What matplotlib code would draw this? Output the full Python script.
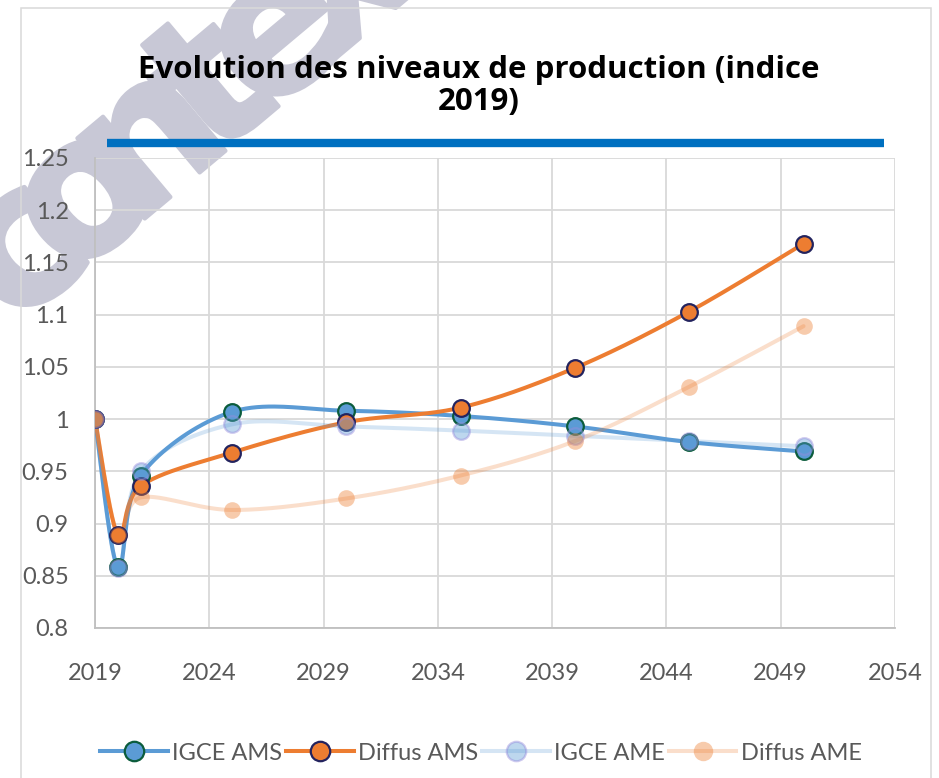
import numpy as np
import matplotlib
matplotlib.use('Agg')
import matplotlib.pyplot as plt
import matplotlib.patheffects as pe
from matplotlib.lines import Line2D
from matplotlib.patches import Rectangle
from matplotlib.ticker import FixedLocator, MultipleLocator, FuncFormatter

plt.rcParams['font.family'] = ['Lato', 'DejaVu Sans']

years = [2019, 2020, 2021, 2025, 2030, 2035, 2040, 2045, 2050]
igce_ams = [1.000, 0.858, 0.946, 1.007, 1.008, 1.003, 0.993, 0.978, 0.969]
diffus_ams = [1.000, 0.889, 0.936, 0.968, 0.997, 1.011, 1.049, 1.103, 1.168]
igce_ame = [1.000, 0.857, 0.950, 0.995, 0.993, 0.989, 0.984, 0.979, 0.974]
diffus_ame = [1.000, 0.889, 0.925, 0.913, 0.924, 0.946, 0.979, 1.031, 1.089]

x_ticks = [2019, 2024, 2029, 2034, 2039, 2044, 2049, 2054]
title = "Evolution des niveaux de production (indice\n2019)"
labels = ['IGCE AMS', 'Diffus AMS', 'IGCE AME', 'Diffus AME']
watermark = 'contexte'

BLUE = (91/255, 155/255, 213/255)
ORANGE = (237/255, 125/255, 49/255)
WM_COLOR = '#c8c8d6'


def smooth(xs, ys, n=40):
    # excel-like bezier smoothing through the points
    P = np.column_stack([xs, ys]).astype(float)
    out = []
    for i in range(len(P) - 1):
        p0 = P[max(i - 1, 0)]
        p1 = P[i]
        p2 = P[i + 1]
        p3 = P[min(i + 2, len(P) - 1)]
        c1 = p1 + (p2 - p0) / 6
        c2 = p2 - (p3 - p1) / 6
        t = np.linspace(0, 1, n)[:, None]
        seg = (1 - t)**3 * p1 + 3 * (1 - t)**2 * t * c1 + 3 * (1 - t) * t**2 * c2 + t**3 * p2
        out.append(seg if i == 0 else seg[1:])
    s = np.vstack(out)
    return s[:, 0], s[:, 1]


styles = [
    dict(color=BLUE, lw=2.9, mfc=BLUE, mec='#0b5c3c', mew=1.6),
    dict(color=ORANGE, lw=2.9, mfc=ORANGE, mec='#23235e', mew=1.6),
    dict(color=BLUE + (0.25,), lw=2.9, mfc=BLUE + (0.4,), mec=(150/255, 140/255, 220/255, 0.45), mew=1.6),
    dict(color=ORANGE + (0.25,), lw=2.9, mfc=ORANGE + (0.4,), mec=ORANGE + (0.0,), mew=1.6),
]
series = [igce_ams, diffus_ams, igce_ame, diffus_ame]

fig = plt.figure(figsize=(9.39, 7.78), dpi=100)
W, H = 939, 778

# watermark, letters placed along a diagonal, under everything else
ang = 40
along = np.array([np.cos(np.radians(ang)), -np.sin(np.radians(ang))])
start = np.array([22 + 34, 252 + 41])
for k, ch in enumerate(watermark):
    px, py = start + k * 84 * along
    fig.text(px / W, 1 - py / H, ch, rotation=ang, rotation_mode='anchor', ha='center',
             va='baseline', fontsize=138, fontweight='bold', family='DejaVu Sans',
             color=WM_COLOR, zorder=-5,
             path_effects=[pe.withStroke(linewidth=3, foreground=WM_COLOR)])

# outer chart border
fig.patches.append(Rectangle((21 / W, -0.05), 910 / W, (H - 8) / H + 0.05, transform=fig.transFigure,
                             fill=False, edgecolor='#d9d9d9', linewidth=1.1))

ax = fig.add_axes([95 / W, 1 - 628 / H, 800 / W, 470 / H])
ax.set_facecolor('none')

for ys, st in zip(series, styles):
    sx, sy = smooth(years, ys)
    ax.plot(sx, sy, color=st['color'], lw=st['lw'], solid_capstyle='round', zorder=3)
    ax.plot(years, ys, linestyle='none', marker='o', ms=12, mfc=st['mfc'], mec=st['mec'],
            mew=st['mew'], zorder=4)

ax.set_xlim(2019, 2054)
ax.set_ylim(0.8, 1.25)
ax.xaxis.set_major_locator(FixedLocator(x_ticks))
ax.yaxis.set_major_locator(MultipleLocator(0.05))
ax.yaxis.set_major_formatter(FuncFormatter(lambda v, p: '%g' % round(v, 2)))
ax.grid(True, color='#d9d9d9', linewidth=1.3, zorder=0)
ax.set_axisbelow(True)
for s in ['top', 'right']:
    ax.spines[s].set_visible(False)
for s in ['left', 'bottom']:
    ax.spines[s].set_color('#bfbfbf')
    ax.spines[s].set_linewidth(1.3)
ax.tick_params(length=0, labelsize=17, labelcolor='#595959')
ax.tick_params(axis='y', pad=19)
ax.tick_params(axis='x', pad=25)

# title + blue rule
fig.text(479 / W, 1 - 86 / H, title, ha='center', va='center', fontsize=22.5, fontweight='bold',
         family='Open Sans', color='black', linespacing=1.1)
fig.add_artist(Line2D([107 / W, 884 / W], [1 - 143 / H, 1 - 143 / H], transform=fig.transFigure,
                      color='#0070C0', linewidth=6, solid_capstyle='butt'))

handles = [Line2D([], [], color=st['color'], lw=st['lw'], marker='o', ms=14, mfc=st['mfc'],
                  mec=st['mec'], mew=st['mew']) for st in styles]
fig.legend(handles, labels, loc='center', bbox_to_anchor=(481 / W, 1 - 753 / H), ncol=4,
           frameon=False, fontsize=17, handlelength=2.85, handletextpad=0.18, columnspacing=0.18,
           labelcolor='#595959')

fig.savefig('out.png', dpi=100)
